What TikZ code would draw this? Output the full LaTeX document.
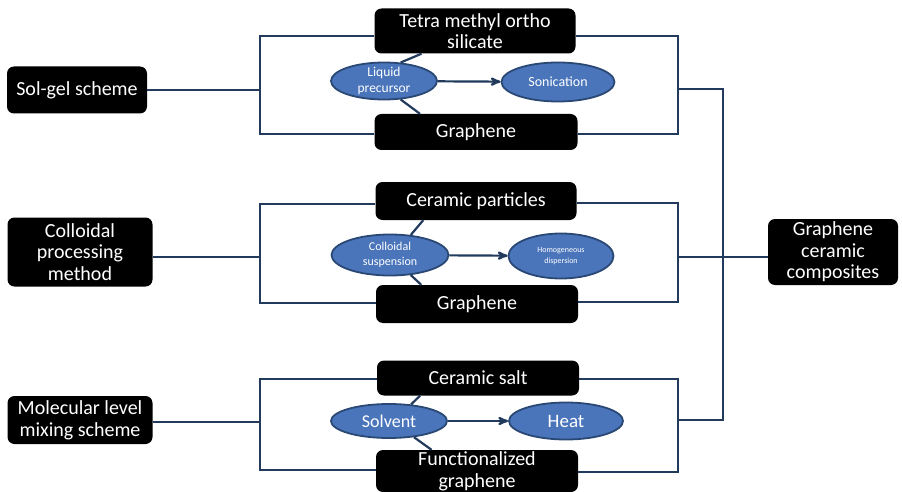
\documentclass[tikz,border=0pt]{standalone}
\usepackage{fontspec}
\setmainfont{Carlito}
\usepackage{tikz}
\usetikzlibrary{shapes}
\usetikzlibrary{arrows,positioning}
\definecolor{ovalblue}{HTML}{4A75BB}
\definecolor{ovalrim}{HTML}{2A4874}
\definecolor{wireblue}{HTML}{223A5C}

\begin{document}
\begin{tikzpicture}
[x=1pt,y=-1pt,>=stealth',
 blk/.style={rectangle,rounded corners=7pt,fill=black,text=white,align=center,inner sep=0pt,font=\fontsize{20}{21.6}\selectfont},
 oval/.style={ellipse,draw=ovalrim,line width=1.8pt,fill=ovalblue,text=white,align=center,inner xsep=0pt,inner ysep=-4pt},
 wire/.style={draw=wireblue,line width=2.2pt}]
  \useasboundingbox (0,0) rectangle (902,492);
%
  \node[blk,minimum width=140pt,minimum height=47pt] (sg) at (77,90) {Sol-gel scheme};
  \node[blk,minimum width=145pt,minimum height=69pt] (cpm) at (80,252) {Colloidal\\processing\\method};
  \node[blk,minimum width=145pt,minimum height=48pt] (mlm) at (80,420) {Molecular level\\mixing scheme};
%
  \node[blk,minimum width=201pt,minimum height=45pt] (tmos) at (475,31) {Tetra methyl ortho\\silicate};
  \node[blk,minimum width=203pt,minimum height=36pt] (gr1) at (476,132) {Graphene};
  \node[blk,minimum width=201pt,minimum height=38pt] (cp) at (476,201) {Ceramic particles};
  \node[blk,minimum width=202pt,minimum height=38pt] (gr2) at (477,304) {Graphene};
  \node[blk,minimum width=202pt,minimum height=35pt] (cs) at (478,378) {Ceramic salt};
  \node[blk,minimum width=202pt,minimum height=42pt] (fg) at (477,471) {Functionalized\\graphene};
%
  \node[blk,minimum width=130pt,minimum height=66pt] (gcc) at (833,252) {Graphene\\ceramic\\composites};
%
  \node[oval,minimum width=106pt,minimum height=37pt,font=\fontsize{13.5}{16}\selectfont] (lp) at (384,81) {Liquid\\precursor};
  \node[oval,minimum width=113pt,minimum height=39pt,font=\fontsize{14}{16}\selectfont] (son) at (558,82) {Sonication};
  \node[oval,minimum width=117pt,minimum height=41pt,font=\fontsize{12}{15}\selectfont] (csu) at (390,255) {Colloidal\\suspension};
  \node[oval,minimum width=105pt,minimum height=45pt,font=\fontsize{8}{11}\selectfont] (hd) at (561,256) {Homogeneous\\dispersion};
  \node[oval,minimum width=116pt,minimum height=34pt,font=\fontsize{18}{20}\selectfont] (sol) at (389,421) {Solvent};
  \node[oval,minimum width=114pt,minimum height=37pt,font=\fontsize{19}{20}\selectfont] (heat) at (566,421) {Heat};
%
  \coordinate (lt1) at (260,36);  \coordinate (lb1) at (260,134);
  \coordinate (rt1) at (678,36);  \coordinate (rb1) at (678,134);
  \coordinate (rm1) at (678,89);
  \coordinate (lm2) at (260,257);
  \coordinate (lt2) at (260,204); \coordinate (lb2) at (260,303);
  \coordinate (rt2) at (678,203); \coordinate (rb2) at (678,302);
  \coordinate (rm2) at (678,257);
  \coordinate (lm3) at (260,422);
  \coordinate (lt3) at (260,379); \coordinate (lb3) at (260,470);
  \coordinate (rt3) at (678,379); \coordinate (rb3) at (678,472);
  \coordinate (rm3) at (678,420);
  \coordinate (trunk) at (723,420);
%
  \draw[wire] (sg) -- (sg -| lt1);
  \draw[wire] (tmos.west |- lt1) -| (lb1) -- (gr1.west |- lb1);
  \draw[wire] (tmos.east |- rt1) -| (rb1) -- (gr1.east |- rb1);
  \draw[wire] (lp.48) -- (tmos.203);
  \draw[wire] (lp.-48) -- (gr1.162);
  \draw[wire,->] (lp) -- (son);
%
  \draw[wire] (cpm.east |- lm2) -- (lm2);
  \draw[wire] (cp.west |- lt2) -| (lb2) -- (gr2.west |- lb2);
  \draw[wire] (cp.east |- rt2) -| (rb2) -- (gr2.east |- rb2);
  \draw[wire] (csu.44) -- (cp.200);
  \draw[wire] (csu.-44) -- (gr2.161);
  \draw[wire,->] (csu) -- (hd);
  \draw[wire] (rm2) -- (gcc.west |- rm2);
%
  \draw[wire] (mlm.east |- lm3) -- (lm3);
  \draw[wire] (cs.west |- lt3) -| (lb3) -- (fg.west |- lb3);
  \draw[wire] (cs.east |- rt3) -| (rb3) -- (fg.east |- rb3);
  \draw[wire] (sol.37) -- (cs.197);
  \draw[wire] (sol.-33) -- (fg.155);
  \draw[wire,->] (sol) -- (heat);
%
  \draw[wire] (rm1) -| (trunk) -- (rm3);
\end{tikzpicture}
\end{document}
